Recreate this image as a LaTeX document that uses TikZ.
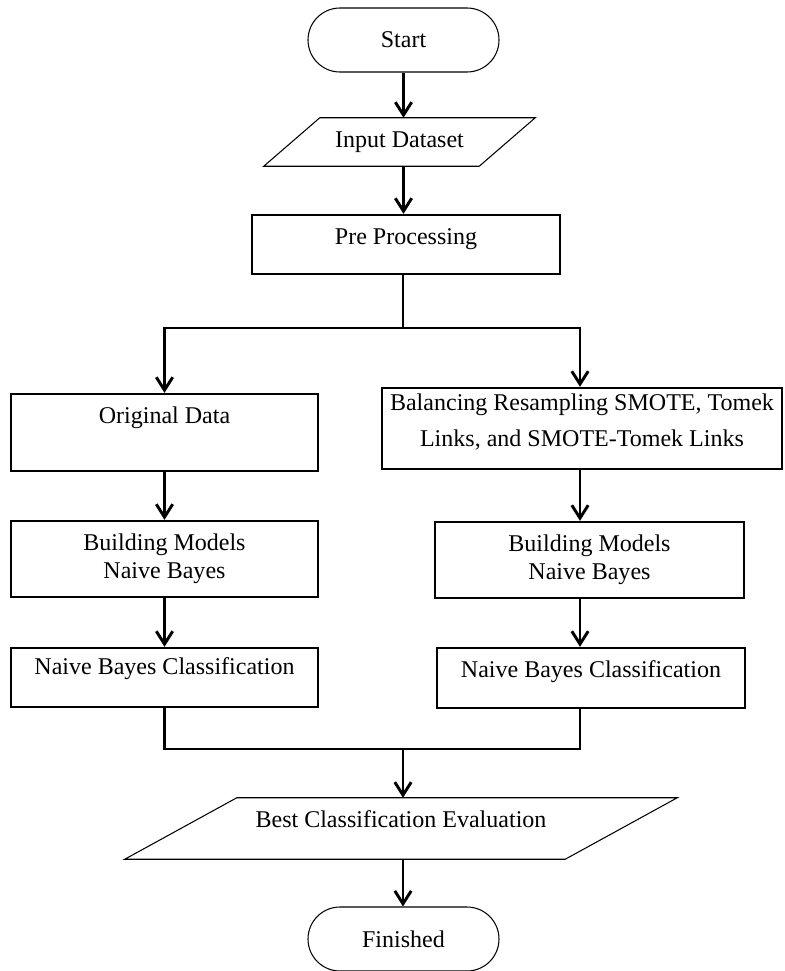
\documentclass[tikz,border=0pt]{standalone}
\usepackage{fontspec}
\setmainfont{Liberation Serif}
\usetikzlibrary{shapes.misc,arrows.meta,calc}
\begin{document}
\begin{tikzpicture}[x=0.03cm,y=-0.03cm,
    every node/.style={font=\fontsize{20.5}{24}\selectfont, align=center, inner sep=0pt},
    term/.style={draw, line width=0.9pt, rounded rectangle, minimum width=5.73cm, minimum height=1.92cm},
    box/.style={draw, line width=2pt, minimum width=#1},
    slanted/.style={line width=0.9pt, line join=miter},
    link/.style={line width=2.5pt},
    arr/.style={line width=2.5pt, -{Straight Barb[length=11pt,width=14pt]}}]
    \useasboundingbox (0,0) rectangle (785,971);
    \coordinate (colR) at (580,0);
    \coordinate (split) at (403,328);
    \coordinate (join) at (403,749);
    % terminals and in/out
    \node[term] (start) at (403.5,40) {Start};
    \node[minimum width=8.13cm, minimum height=1.44cm] (input) at (399.5,142) {Input Dataset};
    \draw[slanted] ($(input.north west)+(1.68cm,0)$) -- (input.north east) -- ($(input.south east)-(1.68cm,0)$) -- (input.south west) -- cycle;
    \node[box=9.24cm, minimum height=1.77cm, text depth=14pt] (pre) at (406,244.5) {Pre Processing};
    % left side
    \node[box=9.21cm, minimum height=2.31cm, text depth=30pt] (orig) at (164.5,432.5) {Original Data};
    \node[box=9.21cm, minimum height=2.28cm] (bmL) at (164.5,559) {Building Models\\Naive Bayes};
    \node[box=9.21cm, minimum height=1.77cm, text depth=20pt] (nbL) at (164.5,677.5) {Naive Bayes Classification};
    % right side
    \node[box=12cm, minimum height=2.43cm, text depth=14pt] (bal) at (582,428.5) {Balancing Resampling SMOTE, Tomek\\[6.5pt]Links, and SMOTE-Tomek Links};
    \node[box=9.27cm, minimum height=2.28cm] (bmR) at (589.5,560) {Building Models\\Naive Bayes};
    \node[box=9.24cm, minimum height=1.8cm, text depth=15pt] (nbR) at (591,678) {Naive Bayes Classification};
    % end
    \node[minimum width=16.56cm, minimum height=1.83cm, text depth=16pt] (best) at (401,828.5) {Best Classification Evaluation};
    \draw[slanted] ($(best.north west)+(3.36cm,0)$) -- (best.north east) -- ($(best.south east)-(3.36cm,0)$) -- (best.south west) -- cycle;
    \node[term] (fin) at (403.5,939) {Finished};
    % arrows
    \draw[arr] (start.south) -- (start.south |- input.north);
    \draw[arr] (start.south |- input.south) -- (start.south |- pre.north);
    \draw[link] (split |- pre.south) -- (split);
    \draw[arr] (split) -| (orig.north);
    \draw[arr] (split) -| (bal.north -| colR);
    \draw[arr] (orig.south) -- (bmL.north);
    \draw[arr] (bmL.south) -- (nbL.north);
    \draw[arr] (bal.south -| colR) -- (bmR.north -| colR);
    \draw[arr] (bmR.south -| colR) -- (nbR.north -| colR);
    \draw[link] (nbL.south) |- (join) -| (nbR.south -| colR);
    \draw[arr] (join) -- (join |- best.north);
    \draw[arr] (join |- best.south) -- (join |- fin.north);
\end{tikzpicture}
\end{document}
